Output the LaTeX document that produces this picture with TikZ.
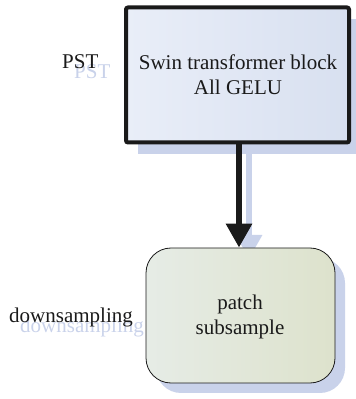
\documentclass[tikz,border=0pt]{standalone}
\usepackage{fontspec}
\setmainfont{Liberation Serif}
\usetikzlibrary{arrows.meta}
\definecolor{shadowc}{HTML}{C9D2EA}
\definecolor{topA}{HTML}{E9EEF8}
\definecolor{topB}{HTML}{D8E0F0}
\definecolor{botA}{HTML}{E6ECE6}
\definecolor{botB}{HTML}{DDE2CC}
\definecolor{inkc}{HTML}{1A1A1A}
\tikzset{
  lbl/.style={font=\fontsize{21}{25}\selectfont, inner sep=0pt, anchor=base west, text=inkc},
  lblshadow/.style={lbl, text=shadowc},
  txt/.style={font=\fontsize{21}{25}\selectfont, inner sep=0pt, anchor=base, text=inkc},
  shadowfill/.style={fill=shadowc, draw=none},
}
\begin{document}
\begin{tikzpicture}[x=1pt,y=1pt]
\useasboundingbox (0,0) rectangle (356,399);
% shadows
\fill[shadowc] (138,245) rectangle (362,380);
\fill[shadowc, rounded corners=25pt] (156,6) rectangle (345,141);
% arrow shadow
\draw[shadowc, line width=6pt, -{Triangle[width=25pt,length=24pt]}] (249,245) -- (249,140);
% labels shadows
\node[lblshadow] (pstS) at (74,320) {PST};
\node[lblshadow] (downS) at (20,66) {downsampling};
% top box
\node[draw=inkc, line width=4pt, rounded corners=2pt, left color=topA, right color=topB, minimum width=223pt, minimum height=135pt, inner sep=0pt] (top) at (237.5,324) {};
\node[txt] (t1) at (238,329) {Swin transformer block};
\node[txt] (t2) at (238,304) {All GELU};
% bottom box
\node[draw=inkc, line width=0.8pt, rounded corners=25pt, left color=botA, right color=botB, minimum width=189pt, minimum height=135pt, inner sep=0pt] (bot) at (240.5,83.5) {};
\node[txt] (b1) at (240,89) {patch};
\node[txt] (b2) at (240,64) {subsample};
% arrow
\draw[inkc, line width=6pt, -{Triangle[width=25pt,length=24pt]}] (top.south -| 239,0) ++(0,2) coordinate (as) -- (bot.north -| 239,0) coordinate (ae);
% labels
\node[lbl] (pst) at (62,330) {PST};
\node[lbl] (down) at (9,76) {downsampling};
\end{tikzpicture}
\end{document}
